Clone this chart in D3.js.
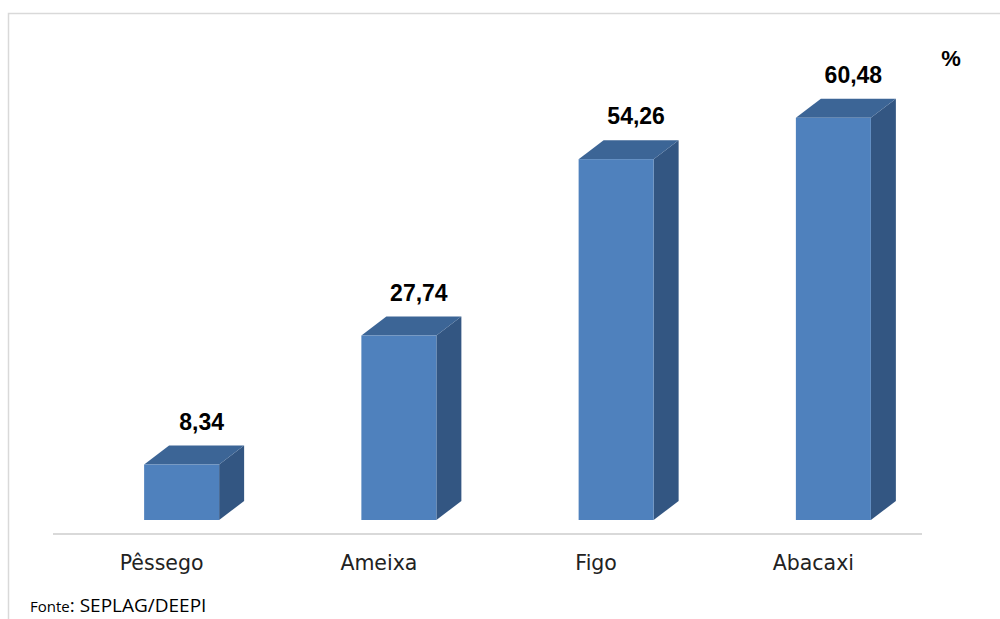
<!DOCTYPE html>
<html><head><meta charset="utf-8">
<script src="https://cdn.jsdelivr.net/npm/d3@7"></script>
<style>body{margin:0;background:#fff}svg{display:block}</style>
</head><body>
<svg id="c" width="1000" height="619"></svg>
<script>
const categories = ["Pêssego", "Ameixa", "Figo", "Abacaxi"];
const values = [8.34, 27.74, 54.26, 60.48];
const valueLabels = ["8,34", "27,74", "54,26", "60,48"];
const unitLabel = "%";
const sourceLabel = ["Fonte", ": SEPLAG/DEEPI"];

const svg = d3.select("#c");
svg.append("path").attr("d", "M8.5,619 V13.5 H1000").attr("fill", "none").attr("stroke", "#d9d9d9").attr("stroke-width", 1.5);

const x = d3.scaleBand().domain(categories).range([53, 922]).padding(0);
const y = d3.scaleLinear().domain([0, 70]).range([520, 54.5]);
const frontW = 75, shift = 20, dx = 25, dy = 19;

svg.append("line").attr("x1", 53).attr("x2", 922).attr("y1", 534).attr("y2", 534).attr("stroke", "#d9d9d9").attr("stroke-width", 2);

const g = svg.append("g").selectAll("g").data(categories).join("g");
g.each(function(c, i) {
  const cx = x(c) + x.bandwidth() / 2 + shift;
  const x0 = cx - frontW / 2, x1 = cx + frontW / 2;
  const yt = y(values[i]), yb = y(0);
  const s = d3.select(this);
  s.append("path").attr("d", `M${x1},${yb} L${x1 + dx},${yb - dy} L${x1 + dx},${yt - dy} L${x1},${yt} Z`).attr("fill", "#335682");
  s.append("path").attr("d", `M${x0},${yt} L${x0 + dx},${yt - dy} L${x1 + dx},${yt - dy} L${x1},${yt} Z`).attr("fill", "#3c6596");
  s.append("rect").attr("x", x0).attr("y", yt).attr("width", frontW).attr("height", yb - yt).attr("fill", "#4f81bd");
  s.append("text").attr("x", cx + 20).attr("y", yt - dy - 16).attr("text-anchor", "middle")
    .attr("font-family", "Liberation Sans, Arial, sans-serif").attr("font-weight", "bold").attr("font-size", 23).attr("fill", "#000")
    .text(valueLabels[i]);
});

svg.append("g").selectAll("text").data(categories).join("text")
  .attr("x", d => x(d) + x.bandwidth() / 2).attr("y", 570).attr("text-anchor", "middle")
  .attr("font-family", "DejaVu Sans, sans-serif").attr("font-size", 20.5).attr("fill", "#222")
  .text(d => d);

svg.append("text").attr("x", 951).attr("y", 66).attr("text-anchor", "middle")
  .attr("font-family", "Liberation Sans, Arial, sans-serif").attr("font-weight", "bold").attr("font-size", 22).text(unitLabel);

const src = svg.append("text").attr("x", 30).attr("y", 612).attr("font-family", "Open Sans, sans-serif").attr("fill", "#000");
src.append("tspan").attr("font-size", 15).text(sourceLabel[0]);
src.append("tspan").attr("font-size", 19).text(sourceLabel[1]);
</script>
</body></html>
